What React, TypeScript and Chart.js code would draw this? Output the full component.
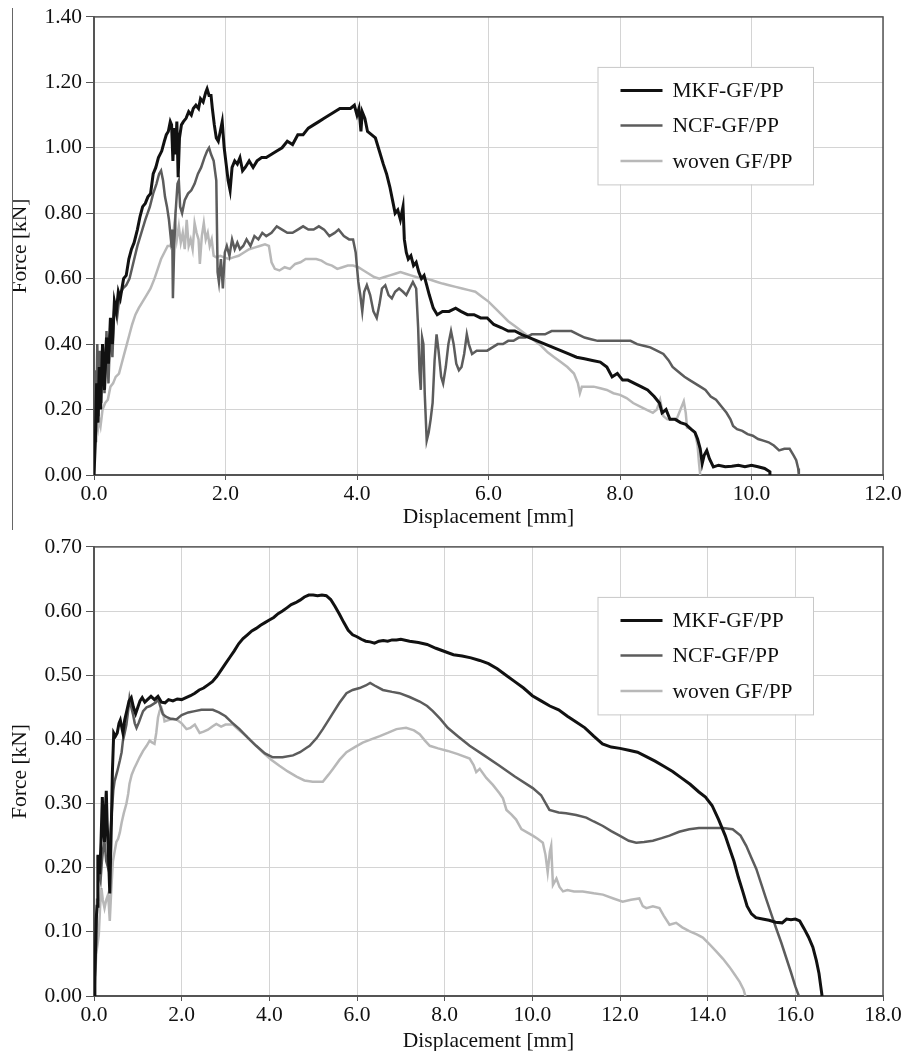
import React, { useEffect, useRef } from 'react';
import { Chart, registerables } from 'chart.js';

Chart.register(...registerables);

const FONT = '"Liberation Serif", "Times New Roman", serif';

const seriesLabels = ['MKF-GF/PP', 'NCF-GF/PP', 'woven GF/PP'];
const seriesColors = ['#111111', '#5c5c5c', '#b8b8b8'];
const seriesWidths = [3, 2.5, 2.5];

// ---------- Top chart ----------
const topMkfX = [0, 0.02, 0.04, 0.06, 0.08, 0.1, 0.13, 0.16, 0.19, 0.22, 0.25, 0.28, 0.31, 0.34, 0.37, 0.4, 0.45, 0.49, 0.53, 0.57, 0.61, 0.66, 0.7, 0.74, 0.78, 0.82, 0.86, 0.9, 0.94, 0.98, 1.03, 1.07, 1.1, 1.13, 1.16, 1.18, 1.2, 1.22, 1.24, 1.26, 1.28, 1.3, 1.33, 1.36, 1.4, 1.44, 1.48, 1.51, 1.55, 1.59, 1.62, 1.66, 1.7, 1.72, 1.75, 1.78, 1.8, 1.83, 1.86, 1.89, 1.92, 1.95, 1.98, 2.01, 2.04, 2.07, 2.1, 2.14, 2.18, 2.22, 2.26, 2.3, 2.36, 2.42, 2.48, 2.55, 2.62, 2.7, 2.78, 2.86, 2.94, 3.02, 3.1, 3.18, 3.26, 3.34, 3.42, 3.5, 3.58, 3.66, 3.74, 3.82, 3.9, 3.96, 4.0, 4.03, 4.06, 4.08, 4.12, 4.16, 4.22, 4.28, 4.34, 4.4, 4.45, 4.5, 4.55, 4.58, 4.62, 4.66, 4.7, 4.72, 4.75, 4.78, 4.82, 4.86, 4.9, 4.94, 4.98, 5.02, 5.06, 5.1, 5.16, 5.22, 5.3, 5.4, 5.5, 5.58, 5.68, 5.78, 5.88, 5.98, 6.08, 6.2, 6.3, 6.4, 6.5, 6.62, 6.74, 6.86, 6.98, 7.1, 7.22, 7.34, 7.46, 7.58, 7.7, 7.8, 7.88, 7.96, 8.04, 8.12, 8.22, 8.32, 8.42, 8.52, 8.6, 8.64, 8.7, 8.76, 8.84, 8.92, 9.0, 9.08, 9.14, 9.18, 9.22, 9.25, 9.28, 9.32, 9.36, 9.42, 9.5, 9.6, 9.7, 9.8, 9.9, 10.0, 10.1, 10.2, 10.28, 10.28];
const topMkfY = [0, 0.1, 0.28, 0.16, 0.33, 0.2, 0.4, 0.26, 0.42, 0.34, 0.48, 0.4, 0.53, 0.5, 0.56, 0.54, 0.6, 0.61, 0.66, 0.69, 0.71, 0.75, 0.79, 0.82, 0.83, 0.85, 0.86, 0.92, 0.94, 0.97, 0.99, 1.02, 1.04, 1.05, 1.08, 1.07, 0.96, 1.06, 0.98, 1.08, 0.91, 1.03, 1.07, 1.08, 1.09, 1.11, 1.1, 1.12, 1.13, 1.12, 1.15, 1.14, 1.17, 1.18, 1.16, 1.16, 1.12, 1.07, 1.03, 1.02, 1.05, 1.08, 1.0, 0.95, 0.9, 0.87, 0.94, 0.96, 0.95, 0.97, 0.93, 0.94, 0.96, 0.94, 0.96, 0.97, 0.97, 0.98, 0.99, 1.0, 1.02, 1.01, 1.04, 1.04, 1.06, 1.07, 1.08, 1.09, 1.1, 1.11, 1.12, 1.12, 1.12, 1.13, 1.1, 1.12, 1.05, 1.11, 1.09, 1.05, 1.04, 1.03, 0.99, 0.95, 0.92, 0.88, 0.83, 0.8, 0.81, 0.78, 0.82, 0.72, 0.68, 0.66, 0.67, 0.64, 0.65, 0.62, 0.6, 0.61, 0.58, 0.55, 0.51, 0.49, 0.5, 0.5, 0.51, 0.5, 0.49, 0.49, 0.48, 0.48, 0.46, 0.45, 0.44, 0.44, 0.43, 0.42, 0.41, 0.4, 0.39, 0.38, 0.37, 0.36, 0.355, 0.35, 0.345, 0.33, 0.3, 0.31, 0.29, 0.29, 0.28, 0.27, 0.26, 0.24, 0.22, 0.19, 0.2, 0.17, 0.17, 0.16, 0.155, 0.14, 0.13, 0.11, 0.08, 0.035, 0.06, 0.075, 0.05, 0.025, 0.03, 0.025, 0.027, 0.03, 0.025, 0.03, 0.025, 0.02, 0.01, 0];

const topNcfX = [0, 0.02, 0.03, 0.05, 0.07, 0.09, 0.11, 0.13, 0.16, 0.19, 0.22, 0.25, 0.28, 0.31, 0.35, 0.39, 0.44, 0.49, 0.54, 0.6, 0.66, 0.72, 0.78, 0.85, 0.9, 0.95, 0.99, 1.02, 1.05, 1.08, 1.11, 1.14, 1.17, 1.19, 1.2, 1.22, 1.24, 1.27, 1.29, 1.31, 1.34, 1.38, 1.43, 1.48, 1.53, 1.58, 1.63, 1.68, 1.72, 1.75, 1.78, 1.82, 1.86, 1.88, 1.9, 1.93, 1.96, 1.99, 2.02, 2.06, 2.1, 2.14, 2.18, 2.22, 2.27, 2.32, 2.38, 2.44, 2.5, 2.56, 2.62, 2.7, 2.78, 2.86, 2.94, 3.02, 3.1, 3.18, 3.26, 3.34, 3.42, 3.5, 3.58, 3.66, 3.72, 3.8, 3.88, 3.94, 3.98, 4.02, 4.05, 4.08, 4.11, 4.15, 4.2, 4.25, 4.3, 4.34, 4.38, 4.43, 4.48, 4.53, 4.58, 4.64, 4.7, 4.75, 4.8, 4.85, 4.9, 4.93, 4.95, 4.97, 4.99, 5.01, 5.03, 5.06, 5.09, 5.12, 5.15, 5.18, 5.21, 5.24, 5.28, 5.31, 5.35, 5.39, 5.43, 5.47, 5.51, 5.55, 5.59, 5.63, 5.67, 5.7, 5.75, 5.82, 5.9, 5.98, 6.06, 6.14, 6.22, 6.3, 6.38, 6.46, 6.56, 6.66, 6.76, 6.86, 6.96, 7.06, 7.16, 7.26, 7.36, 7.46, 7.56, 7.66, 7.76, 7.86, 7.96, 8.06, 8.16, 8.26, 8.36, 8.46, 8.56, 8.66, 8.74, 8.8, 8.86, 8.92, 8.98, 9.06, 9.14, 9.22, 9.3, 9.38, 9.46, 9.54, 9.62, 9.68, 9.72, 9.78, 9.86, 9.94, 10.02, 10.1, 10.18, 10.26, 10.34, 10.42, 10.5, 10.58, 10.64, 10.68, 10.71, 10.72];
const topNcfY = [0, 0.32, 0.1, 0.4, 0.18, 0.38, 0.22, 0.4, 0.25, 0.44, 0.28, 0.46, 0.36, 0.52, 0.48, 0.55, 0.57, 0.58, 0.6, 0.65, 0.7, 0.74, 0.78, 0.82, 0.86, 0.89, 0.92, 0.93, 0.9, 0.85, 0.82, 0.78, 0.72, 0.75, 0.54, 0.7, 0.8, 0.89, 0.9, 0.82, 0.8, 0.84, 0.86, 0.87, 0.89, 0.92, 0.94, 0.97, 0.99, 1.0, 0.98, 0.96, 0.9, 0.62, 0.59, 0.66, 0.57, 0.68, 0.7, 0.67, 0.72, 0.69, 0.71, 0.69, 0.7, 0.72, 0.7, 0.73, 0.72, 0.74, 0.73, 0.74, 0.76, 0.75, 0.74, 0.74, 0.75, 0.76, 0.75, 0.75, 0.76, 0.75, 0.73, 0.74, 0.75, 0.73, 0.72, 0.72, 0.68, 0.59, 0.55, 0.5, 0.56, 0.58, 0.55, 0.5, 0.48, 0.52, 0.57, 0.58, 0.55, 0.54, 0.56, 0.57, 0.56, 0.55, 0.57, 0.59, 0.57, 0.45, 0.32, 0.26, 0.42, 0.4, 0.25, 0.105, 0.13, 0.17, 0.22, 0.35, 0.43, 0.38, 0.3, 0.28, 0.33, 0.4, 0.44, 0.4, 0.34, 0.32, 0.33, 0.37, 0.43, 0.4, 0.37, 0.38, 0.38, 0.38, 0.39, 0.4, 0.4, 0.41, 0.41, 0.42, 0.42, 0.43, 0.43, 0.43, 0.44, 0.44, 0.44, 0.44, 0.43, 0.42, 0.415, 0.41, 0.41, 0.41, 0.41, 0.41, 0.41, 0.4, 0.395, 0.39, 0.38, 0.37, 0.35, 0.33, 0.32, 0.31, 0.3, 0.29, 0.28, 0.27, 0.26, 0.24, 0.23, 0.21, 0.19, 0.17, 0.15, 0.14, 0.135, 0.125, 0.12, 0.11, 0.105, 0.1, 0.09, 0.075, 0.08, 0.08, 0.06, 0.045, 0.02, 0];

const topWovenX = [0, 0.02, 0.04, 0.06, 0.08, 0.1, 0.13, 0.17, 0.21, 0.25, 0.29, 0.33, 0.38, 0.42, 0.46, 0.5, 0.54, 0.58, 0.63, 0.68, 0.74, 0.8, 0.86, 0.92, 0.97, 1.02, 1.07, 1.12, 1.16, 1.2, 1.23, 1.26, 1.29, 1.32, 1.35, 1.38, 1.41, 1.44, 1.47, 1.5, 1.53, 1.56, 1.59, 1.61, 1.64, 1.67, 1.7, 1.73, 1.76, 1.79, 1.82, 1.86, 1.92, 1.98, 2.05, 2.12, 2.2, 2.28, 2.36, 2.44, 2.52, 2.6, 2.66, 2.7, 2.75, 2.82, 2.9, 2.98, 3.06, 3.14, 3.22, 3.3, 3.38, 3.46, 3.54, 3.62, 3.7, 3.78, 3.86, 3.94, 4.02, 4.1, 4.18, 4.26, 4.34, 4.42, 4.5, 4.58, 4.66, 4.74, 4.82, 4.9, 4.98, 5.06, 5.14, 5.22, 5.3, 5.4, 5.5, 5.6, 5.7, 5.8, 5.9, 6.0, 6.1, 6.2, 6.3, 6.4, 6.5, 6.6, 6.7, 6.8, 6.9, 7.0, 7.1, 7.2, 7.3, 7.36, 7.39, 7.42, 7.5, 7.6, 7.7, 7.8, 7.9, 8.0, 8.1, 8.2, 8.3, 8.4, 8.5, 8.56, 8.61, 8.66, 8.72, 8.8, 8.86, 8.92, 8.97, 9.0, 9.02, 9.08, 9.14, 9.18, 9.2, 9.22];
const topWovenY = [0.05, 0.13, 0.16, 0.14, 0.17, 0.15, 0.2, 0.22, 0.23, 0.27, 0.28, 0.3, 0.31, 0.34, 0.37, 0.4, 0.43, 0.46, 0.49, 0.51, 0.53, 0.55, 0.57, 0.6, 0.63, 0.66, 0.68, 0.7, 0.7, 0.73, 0.78, 0.72, 0.76, 0.71, 0.74, 0.69, 0.78, 0.7, 0.72, 0.69, 0.77, 0.74, 0.72, 0.645, 0.73, 0.77, 0.72, 0.74, 0.7, 0.72, 0.67, 0.665, 0.67, 0.665, 0.66, 0.665, 0.67, 0.68, 0.69, 0.695, 0.7, 0.705, 0.7, 0.65, 0.63, 0.625, 0.635, 0.63, 0.645, 0.65, 0.66, 0.66, 0.66, 0.655, 0.645, 0.64, 0.63, 0.635, 0.64, 0.64, 0.635, 0.625, 0.615, 0.605, 0.6, 0.605, 0.61, 0.615, 0.62, 0.615, 0.61, 0.605, 0.6, 0.6, 0.595, 0.59, 0.585, 0.58, 0.575, 0.57, 0.565, 0.56, 0.545, 0.53, 0.51, 0.49, 0.47, 0.455, 0.44, 0.425, 0.41, 0.395, 0.375, 0.36, 0.345, 0.33, 0.31, 0.28, 0.25, 0.27, 0.27, 0.27, 0.265, 0.26, 0.25, 0.245, 0.235, 0.22, 0.21, 0.2, 0.19, 0.2, 0.23, 0.18, 0.17, 0.17, 0.17, 0.2, 0.225, 0.19, 0.145, 0.14, 0.13, 0.09, 0.04, 0];

// ---------- Bottom chart ----------
const botMkfX = [0, 0.02, 0.05, 0.07, 0.09, 0.11, 0.13, 0.16, 0.19, 0.21, 0.24, 0.26, 0.28, 0.3, 0.33, 0.36, 0.38, 0.4, 0.42, 0.45, 0.49, 0.53, 0.57, 0.6, 0.63, 0.66, 0.7, 0.75, 0.8, 0.85, 0.9, 0.95, 1.0, 1.05, 1.1, 1.16, 1.22, 1.3, 1.38, 1.46, 1.54, 1.62, 1.7, 1.8, 1.9, 2.0, 2.1, 2.2, 2.3, 2.4, 2.5, 2.6, 2.7, 2.8, 2.9, 3.0, 3.1, 3.2, 3.3, 3.4, 3.5, 3.6, 3.7, 3.8, 3.9, 4.0, 4.1, 4.2, 4.3, 4.4, 4.5, 4.6, 4.7, 4.8, 4.9, 5.0, 5.1, 5.2, 5.3, 5.4, 5.5, 5.6, 5.7, 5.8, 5.9, 6.0, 6.1, 6.2, 6.3, 6.4, 6.5, 6.6, 6.7, 6.8, 6.9, 7.0, 7.2, 7.4, 7.6, 7.8, 8.0, 8.2, 8.4, 8.6, 8.8, 9.0, 9.2, 9.4, 9.6, 9.8, 10.0, 10.2, 10.4, 10.6, 10.8, 11.0, 11.2, 11.4, 11.6, 11.8, 12.0, 12.2, 12.4, 12.6, 12.8, 13.0, 13.2, 13.4, 13.6, 13.8, 13.95, 14.1, 14.25, 14.4, 14.5, 14.6, 14.7, 14.8, 14.9, 15.0, 15.1, 15.25, 15.4, 15.55, 15.7, 15.8, 15.9, 16.0, 16.1, 16.2, 16.3, 16.4, 16.48, 16.54, 16.58, 16.61];
const botMkfY = [0, 0.03, 0.12, 0.14, 0.22, 0.21, 0.19, 0.24, 0.31, 0.27, 0.24, 0.29, 0.32, 0.27, 0.22, 0.16, 0.22, 0.28, 0.35, 0.41, 0.405, 0.41, 0.425, 0.43, 0.42, 0.41, 0.43, 0.445, 0.46, 0.465, 0.45, 0.44, 0.45, 0.46, 0.465, 0.458, 0.462, 0.467, 0.462, 0.467, 0.458, 0.457, 0.462, 0.46, 0.463, 0.462, 0.465, 0.468, 0.472, 0.477, 0.48, 0.485, 0.49, 0.498, 0.508, 0.518, 0.528, 0.538, 0.549, 0.557, 0.563, 0.569, 0.573, 0.578, 0.582, 0.586, 0.59, 0.596, 0.6, 0.605, 0.61, 0.613, 0.617, 0.622, 0.625, 0.625, 0.624, 0.625, 0.624, 0.618, 0.607, 0.595, 0.582, 0.57, 0.563, 0.56, 0.556, 0.553, 0.552, 0.55, 0.553, 0.554, 0.553, 0.555, 0.555, 0.556, 0.553, 0.551, 0.548, 0.542, 0.537, 0.532, 0.53, 0.527, 0.523, 0.518, 0.51, 0.5, 0.49, 0.48, 0.468, 0.46, 0.452, 0.446, 0.436, 0.427, 0.418, 0.405, 0.393, 0.388, 0.386, 0.383, 0.38, 0.373, 0.366, 0.358, 0.35, 0.34, 0.33, 0.318, 0.31, 0.297, 0.275, 0.25, 0.23, 0.21, 0.185, 0.163, 0.14, 0.128, 0.122, 0.12, 0.118, 0.115, 0.114, 0.12, 0.119, 0.12, 0.117, 0.105, 0.092, 0.076, 0.055, 0.035, 0.015, 0];

const botNcfX = [0, 0.03, 0.05, 0.07, 0.09, 0.12, 0.15, 0.18, 0.21, 0.24, 0.28, 0.32, 0.36, 0.4, 0.44, 0.47, 0.53, 0.59, 0.63, 0.66, 0.7, 0.74, 0.78, 0.81, 0.85, 0.89, 0.93, 0.97, 1.02, 1.07, 1.12, 1.2, 1.28, 1.35, 1.42, 1.46, 1.52, 1.57, 1.65, 1.75, 1.88, 2.0, 2.15, 2.3, 2.45, 2.6, 2.71, 2.85, 3.0, 3.15, 3.32, 3.5, 3.7, 3.9, 4.08, 4.3, 4.54, 4.7, 4.85, 4.92, 5.08, 5.22, 5.35, 5.45, 5.6, 5.76, 5.9, 6.06, 6.2, 6.3, 6.4, 6.59, 6.8, 6.97, 7.2, 7.43, 7.6, 7.73, 7.9, 8.07, 8.3, 8.57, 8.9, 9.25, 9.6, 10.01, 10.2, 10.39, 10.6, 10.77, 11.0, 11.23, 11.4, 11.61, 11.8, 11.99, 12.2, 12.37, 12.55, 12.75, 12.95, 13.13, 13.35, 13.58, 13.8, 14.12, 14.35, 14.57, 14.75, 14.88, 15.0, 15.11, 15.22, 15.33, 15.45, 15.56, 15.68, 15.79, 15.9, 16.0, 16.08];
const botNcfY = [0, 0.05, 0.08, 0.15, 0.2, 0.19, 0.18, 0.21, 0.23, 0.24, 0.21, 0.2, 0.24, 0.28, 0.32, 0.335, 0.35, 0.367, 0.38, 0.398, 0.41, 0.423, 0.445, 0.464, 0.45, 0.439, 0.425, 0.418, 0.426, 0.435, 0.444, 0.45, 0.452, 0.455, 0.458, 0.464, 0.45, 0.439, 0.435, 0.432, 0.431, 0.438, 0.442, 0.444, 0.446, 0.446, 0.446, 0.442, 0.436, 0.426, 0.416, 0.403, 0.39, 0.378, 0.372, 0.372, 0.375, 0.38, 0.387, 0.39, 0.402, 0.416, 0.43, 0.441, 0.457, 0.472, 0.477, 0.48, 0.484, 0.488, 0.484, 0.477, 0.474, 0.472, 0.466, 0.459, 0.452, 0.444, 0.432, 0.418, 0.405, 0.39, 0.375, 0.359, 0.342, 0.324, 0.313, 0.29, 0.286, 0.285, 0.282, 0.278, 0.272, 0.265, 0.257, 0.25, 0.242, 0.239, 0.24, 0.242, 0.246, 0.25, 0.256, 0.26, 0.262, 0.262, 0.262, 0.26, 0.25, 0.234, 0.215, 0.198, 0.175, 0.152, 0.128, 0.106, 0.083, 0.06, 0.037, 0.015, 0];

const botWovenX = [0, 0.03, 0.05, 0.08, 0.11, 0.14, 0.17, 0.2, 0.24, 0.28, 0.32, 0.34, 0.36, 0.39, 0.43, 0.47, 0.51, 0.55, 0.59, 0.63, 0.68, 0.74, 0.78, 0.81, 0.86, 0.92, 0.97, 1.04, 1.12, 1.2, 1.27, 1.33, 1.38, 1.42, 1.46, 1.5, 1.54, 1.58, 1.61, 1.7, 1.8, 1.88, 2.0, 2.11, 2.2, 2.3, 2.41, 2.5, 2.6, 2.7, 2.79, 2.9, 3.0, 3.17, 3.3, 3.48, 3.65, 3.85, 4.05, 4.23, 4.42, 4.62, 4.8, 4.99, 5.1, 5.22, 5.35, 5.45, 5.6, 5.76, 5.95, 6.13, 6.32, 6.52, 6.7, 6.9, 7.12, 7.3, 7.43, 7.55, 7.66, 7.85, 8.07, 8.3, 8.57, 8.66, 8.72, 8.8, 8.95, 9.1, 9.25, 9.33, 9.41, 9.52, 9.63, 9.75, 9.88, 10.01, 10.12, 10.24, 10.3, 10.35, 10.4, 10.43, 10.47, 10.55, 10.62, 10.7, 10.8, 10.95, 11.15, 11.4, 11.61, 11.85, 12.06, 12.25, 12.44, 12.52, 12.6, 12.75, 12.9, 13.0, 13.13, 13.28, 13.42, 13.58, 13.75, 13.89, 14.05, 14.19, 14.35, 14.5, 14.62, 14.73, 14.82, 14.86];
const botWovenY = [0, 0.03, 0.065, 0.08, 0.096, 0.14, 0.168, 0.15, 0.137, 0.15, 0.158, 0.14, 0.117, 0.16, 0.209, 0.225, 0.24, 0.245, 0.255, 0.27, 0.285, 0.3, 0.315, 0.331, 0.345, 0.355, 0.362, 0.372, 0.382, 0.39, 0.398, 0.395, 0.393, 0.41, 0.434, 0.445, 0.449, 0.44, 0.428, 0.43, 0.432, 0.431, 0.425, 0.416, 0.418, 0.423, 0.41, 0.412, 0.415, 0.42, 0.424, 0.42, 0.423, 0.423, 0.415, 0.405, 0.393, 0.38, 0.368, 0.359, 0.35, 0.342, 0.336, 0.334, 0.334, 0.334, 0.345, 0.354, 0.368, 0.38, 0.388, 0.395, 0.4, 0.405, 0.41, 0.416, 0.418, 0.414, 0.408, 0.398, 0.39, 0.386, 0.382, 0.377, 0.37, 0.36, 0.349, 0.354, 0.34, 0.329, 0.316, 0.308, 0.29, 0.283, 0.275, 0.26, 0.255, 0.25, 0.245, 0.239, 0.22, 0.193, 0.225, 0.234, 0.173, 0.183, 0.17, 0.163, 0.165, 0.163, 0.163, 0.16, 0.158, 0.152, 0.147, 0.15, 0.152, 0.14, 0.137, 0.14, 0.137, 0.125, 0.111, 0.114, 0.107, 0.101, 0.096, 0.091, 0.08, 0.07, 0.058, 0.045, 0.033, 0.022, 0.01, 0];

const xTitle = 'Displacement [mm]';
const yTitle = 'Force [kN]';

const toPoints = (xs: number[], ys: number[]) => xs.map((x, i) => ({ x, y: ys[i] }));

const framePlugin = {
  id: 'frameBox',
  beforeDatasetsDraw(chart: any) {
    const { ctx, chartArea } = chart;
    const { left, top, right, bottom } = chartArea;
    ctx.save();
    ctx.strokeStyle = '#555555';
    ctx.lineWidth = 1.5;
    ctx.strokeRect(left, top, right - left, bottom - top);
    ctx.restore();
  },
};

const insideLegendPlugin = {
  id: 'insideLegend',
  afterDraw(chart: any, _args: any, opts: any) {
    const { ctx, chartArea } = chart;
    const bx = chartArea.left + opts.offsetX;
    const by = chartArea.top + opts.offsetY;
    ctx.save();
    ctx.fillStyle = '#ffffff';
    ctx.fillRect(bx, by, opts.width, opts.height);
    ctx.strokeStyle = '#c8c8c8';
    ctx.lineWidth = 1;
    ctx.strokeRect(bx + 0.5, by + 0.5, opts.width, opts.height);
    ctx.font = `21.5px ${FONT}`;
    ctx.textBaseline = 'middle';
    ctx.textAlign = 'left';
    chart.data.datasets.forEach((ds: any, i: number) => {
      const ry = by + opts.rows[i];
      ctx.strokeStyle = ds.borderColor;
      ctx.lineWidth = ds.borderWidth;
      ctx.beginPath();
      ctx.moveTo(bx + 23, ry);
      ctx.lineTo(bx + 65, ry);
      ctx.stroke();
      ctx.fillStyle = '#111111';
      ctx.fillText(ds.label, bx + 75, ry + 1);
    });
    ctx.restore();
  },
};

type Cfg = {
  series: { x: number[]; y: number[] }[];
  xMax: number;
  yMax: number;
  yStep: number;
  padTop: number;
  xAxisH: number;
  titleBottom: number;
};

function makeConfig(c: Cfg): any {
  return {
    type: 'line',
    data: {
      datasets: c.series.map((s, i) => ({
        label: seriesLabels[i],
        data: toPoints(s.x, s.y),
        borderColor: seriesColors[i],
        backgroundColor: seriesColors[i],
        borderWidth: seriesWidths[i],
        pointRadius: 0,
        tension: 0,
        fill: false,
      })),
    },
    options: {
      animation: false,
      responsive: false,
      maintainAspectRatio: false,
      layout: { padding: { top: c.padTop, right: 26, bottom: 0, left: 0 } },
      plugins: {
        legend: { display: false },
        tooltip: { enabled: false },
        insideLegend: { offsetX: 503.5, offsetY: 50, width: 215.5, height: 117.5, rows: [23.5, 58.5, 94] },
      },
      scales: {
        x: {
          type: 'linear',
          min: 0,
          max: c.xMax,
          ticks: {
            stepSize: 2,
            autoSkip: false,
            maxRotation: 0,
            padding: 1,
            color: '#111111',
            font: { family: FONT, size: 21.5 },
            callback: (v: any) => Number(v).toFixed(1),
          },
          grid: { color: '#d4d4d4', lineWidth: 1, tickColor: '#555555', tickLength: 5 },
          border: { color: '#555555', width: 2 },
          title: {
            display: true,
            text: xTitle,
            color: '#111111',
            font: { family: FONT, size: 21.5, lineHeight: 1 },
            padding: { top: 0, bottom: c.titleBottom },
          },
          afterFit: (s: any) => {
            s.height = c.xAxisH;
          },
        },
        y: {
          min: 0,
          max: c.yMax,
          ticks: {
            stepSize: c.yStep,
            padding: 4,
            color: '#111111',
            font: { family: FONT, size: 21.5 },
            callback: (v: any) => Number(v).toFixed(2),
          },
          grid: { color: '#d4d4d4', lineWidth: 1, tickColor: '#555555', tickLength: 8 },
          border: { color: '#555555', width: 2 },
          title: {
            display: true,
            text: yTitle,
            color: '#111111',
            font: { family: FONT, size: 21.5, lineHeight: 1 },
            padding: { top: 10, bottom: 0 },
          },
          afterFit: (s: any) => {
            s.width = 94;
          },
        },
      },
    },
    plugins: [framePlugin, insideLegendPlugin],
  };
}

function ChartCanvas({ cfg, width, height, top }: { cfg: Cfg; width: number; height: number; top: number }) {
  const ref = useRef<HTMLCanvasElement | null>(null);
  useEffect(() => {
    if (!ref.current) return;
    const chart = new Chart(ref.current, makeConfig(cfg));
    return () => chart.destroy();
  }, [cfg]);
  return (
    <canvas
      ref={ref}
      width={width}
      height={height}
      style={{ position: 'absolute', left: 0, top, width, height, display: 'block' }}
    />
  );
}

const topCfg: Cfg = {
  series: [
    { x: topMkfX, y: topMkfY },
    { x: topNcfX, y: topNcfY },
    { x: topWovenX, y: topWovenY },
  ],
  xMax: 12,
  yMax: 1.4,
  yStep: 0.2,
  padTop: 16,
  xAxisH: 55,
  titleBottom: 2,
};

const botCfg: Cfg = {
  series: [
    { x: botMkfX, y: botMkfY },
    { x: botNcfX, y: botNcfY },
    { x: botWovenX, y: botWovenY },
  ],
  xMax: 18,
  yMax: 0.7,
  yStep: 0.1,
  padTop: 10,
  xAxisH: 55,
  titleBottom: -1,
};

export default function App() {
  return (
    <div style={{ position: 'absolute', left: 0, top: 0, width: 909, height: 1051, overflow: 'hidden', background: '#ffffff' }}>
      <ChartCanvas cfg={topCfg} width={909} height={530} top={0} />
      <ChartCanvas cfg={botCfg} width={909} height={521} top={530} />
      <div style={{ position: 'absolute', left: 12, top: 8, width: 1, height: 522, background: '#666666' }} />
    </div>
  );
}
